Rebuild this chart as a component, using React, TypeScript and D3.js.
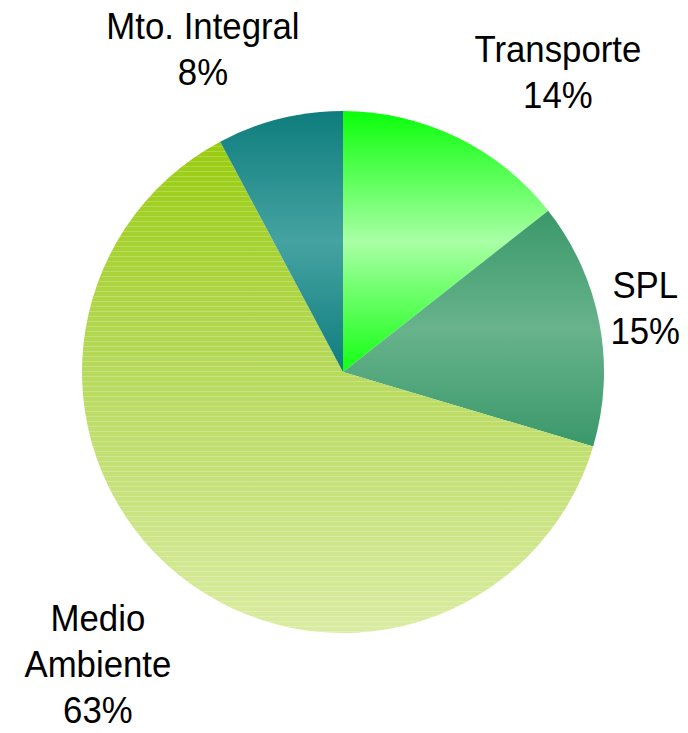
import { arc, pie } from 'd3'

const categories = ['Transporte', 'SPL', 'Medio Ambiente', 'Mto. Integral']
const shares = [14.4, 15.2, 62.6, 7.8]
const percentLabels = ['14%', '15%', '63%', '8%']
const nameLines = [['Transporte'], ['SPL'], ['Medio', 'Ambiente'], ['Mto. Integral']]

// top / middle / bottom colours of each slice's vertical gradient
const sliceGradients = [
  ['#0aff0a', '#a9ffa5', '#12ff12'],
  ['#3a986a', '#68b38c', '#3a986a'],
  ['#99cc0f', '#b6d95a', '#daeca2'],
  ['#0e7d7d', '#45a3a1', '#0e7d7d'],
]

// label placement: angle nudge (deg) from slice middle and distance from centre
const labelLayout = [
  { nudge: 9.7, radius: 369 },
  { nudge: -1.2, radius: 309 },
  { nudge: 0.8, radius: 381 },
  { nudge: -9.4, radius: 352 },
]

const width = 688
const height = 733
const cx = 343
const cy = 372
const radius = 261
const fontSize = 37
const squeeze = 0.94
const lineHeight = 46
const capHeight = 26

type Slice = { name: string; value: number; index: number }

export default function App() {
  const rows: Slice[] = categories.map((name, index) => ({
    name,
    value: shares[index],
    index,
  }))

  const arcs = pie<Slice>()
    .sort(null)
    .value((d) => d.value)
    .startAngle(0)
    .endAngle(2 * Math.PI)(rows)

  const arcPath = arc<any>().innerRadius(0).outerRadius(radius)

  return (
    <svg
      width={width}
      height={height}
      viewBox={`0 0 ${width} ${height}`}
      style={{ position: 'absolute', left: 0, top: 0, background: '#fff' }}
    >
      <defs>
        {sliceGradients.map((stops, i) => (
          <linearGradient key={i} id={`slice-grad-${i}`} x1="0" y1="0" x2="0" y2="1">
            <stop offset="0%" stopColor={stops[0]} />
            <stop offset={i === 2 ? '45%' : '50%'} stopColor={stops[1]} />
            <stop offset="100%" stopColor={stops[2]} />
          </linearGradient>
        ))}
        <pattern id="banding" width={8} height={5} patternUnits="userSpaceOnUse">
          <rect x={0} y={4} width={8} height={1} fill="#ffffff" opacity={0.22} />
        </pattern>
      </defs>

      <g transform={`translate(${cx}, ${cy})`}>
        {arcs.map((a) => (
          <path
            key={a.data.name}
            d={arcPath(a) ?? ''}
            fill={`url(#slice-grad-${a.data.index})`}
          />
        ))}
        {arcs
          .filter((a) => a.data.name === 'Medio Ambiente')
          .map((a) => (
            <path key="band" d={arcPath(a) ?? ''} fill="url(#banding)" />
          ))}
      </g>

      <g
        fontFamily="'Liberation Sans', Arial, sans-serif"
        fontSize={fontSize}
        fill="#000"
        textAnchor="middle"
      >
        {arcs.map((a) => {
          const i = a.data.index
          const mid = (a.startAngle + a.endAngle) / 2 + (labelLayout[i].nudge * Math.PI) / 180
          const r = labelLayout[i].radius
          const x = cx + Math.sin(mid) * r
          const y = cy - Math.cos(mid) * r
          const lines = [...nameLines[i], percentLabels[i]]
          const firstBaseline = -((lines.length - 1) * lineHeight) / 2 + capHeight / 2

          return (
            <text
              key={`${a.data.name}-label`}
              transform={`translate(${x}, ${y}) scale(${squeeze}, 1)`}
            >
              {lines.map((line, k) => (
                <tspan key={k} x={0} y={firstBaseline + k * lineHeight}>
                  {line}
                </tspan>
              ))}
            </text>
          )
        })}
      </g>
    </svg>
  )
}
